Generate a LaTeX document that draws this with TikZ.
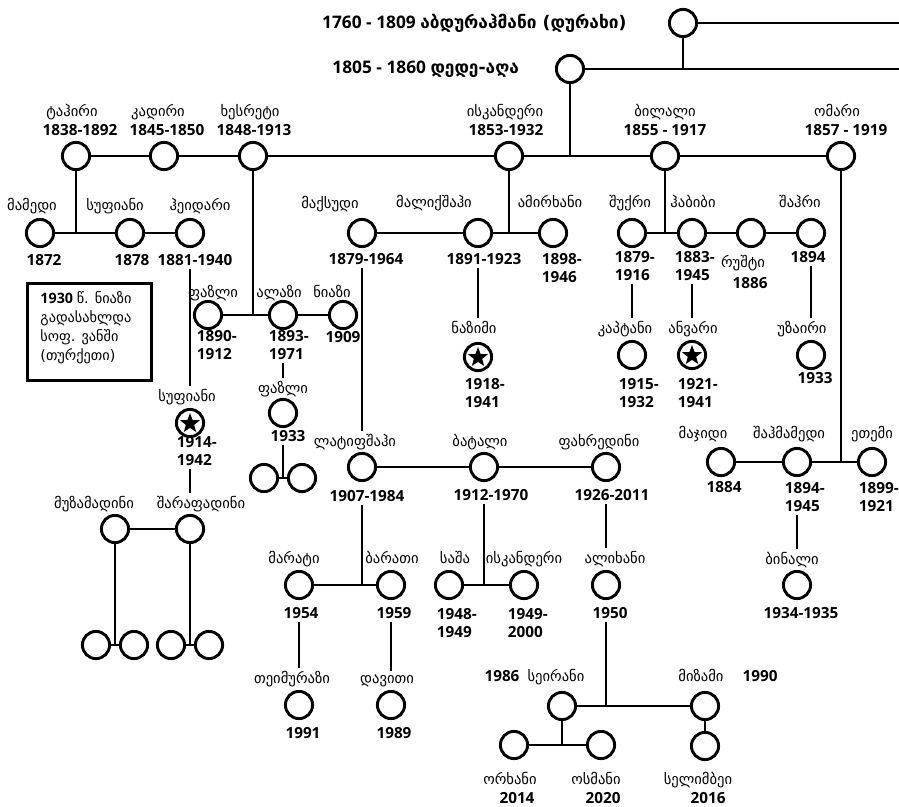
\documentclass[tikz,border=0pt]{standalone}
\usepackage{fontspec}
\setmainfont{Open Sans}
\newfontfamily\geo{DejaVu Sans}
\usetikzlibrary{shapes.geometric}
\newcommand\G[1]{{\geo #1}}
\begin{document}
\begin{tikzpicture}[x=1pt,y=-1pt,line width=2.9pt,
  person/.style={circle,draw,line width=2.9pt,minimum size=27.2pt,inner sep=0pt},
  starmark/.style={star,star points=5,star point ratio=2.4,fill,draw=none,minimum size=21pt,inner sep=0pt},
  yr/.style={font=\fontsize{15.3}{18}\selectfont\bfseries,inner sep=1.5pt,align=left},
  nm/.style={font=\fontsize{14.6}{16}\selectfont\geo,inner sep=1.5pt,anchor=base},
  ttl/.style={font=\fontsize{17.3}{20}\selectfont\bfseries,inner sep=0pt},
  note/.style={font=\fontsize{14.3}{19}\selectfont,inner sep=0pt,align=left,anchor=north west}]
\useasboundingbox (0,0) rectangle (899,806);

% ---------- top ancestors ----------
\node[person] (abd) at (683,23) {};
\node[ttl,anchor=east] (abdL) at (628,23) {1760 - 1809 \G{აბდურაჰმანი (დურახი)}};
\coordinate (abdE) at (899,23);
\draw (abd) -- (abdE);
\node[person] (ded) at (570,69) {};
\node[ttl,anchor=west] (dedL) at (331,69) {1805 - 1860 \G{დედე-აღა}};
\coordinate (dedE) at (899,69);
\draw (ded) -- (dedE);
\draw (abd) -- (abd |- dedE);

% ---------- row 1 ----------
\node[person] (tah) at (76,156) {};
\node[person] (kad) at (164,156) {};
\node[person] (khe) at (253,156) {};
\node[person] (isk) at (509,156) {};
\node[person] (bil) at (665,156) {};
\node[person] (oma) at (841,156) {};
\draw (tah) -- (kad); \draw (kad) -- (khe); \draw (khe) -- (isk);
\draw (isk) -- (bil); \draw (bil) -- (oma);
\draw (ded) -- (ded |- isk);
\node[nm] (tahN) at (72,116) {ტაჰირი};
\node[nm] (kadN) at (158,116) {კადირი};
\node[nm] (kheN) at (250,116) {ხესრეტი};
\node[nm] (iskN) at (505,116) {ისკანდერი};
\node[nm] (bilN) at (665,116) {ბილალი};
\node[nm] (omaN) at (837,116) {ომარი};
\node[yr] (tahY) at (80,130) {1838-1892};
\node[yr] (kadY) at (167,130) {1845-1850};
\node[yr] (kheY) at (254,130) {1848-1913};
\node[yr] (iskY) at (506,130) {1853-1932};
\node[yr] (bilY) at (665,130) {1855 - 1917};
\node[yr] (omaY) at (846,130) {1857 - 1919};

% ---------- tahiri's children ----------
\node[person] (mam) at (40,233) {};
\node[person] (suf) at (130,233) {};
\node[person] (hei) at (190,233) {};
\draw (tah) -- (tah |- mam);
\draw (mam) -- (suf); \draw (suf) -- (hei);
\node[nm] (mamN) at (32,210) {მამედი};
\node[nm] (sufN) at (115,210) {სუფიანი};
\node[nm] (heiN) at (200,210) {ჰეიდარი};
\node[yr] (mamY) at (44,260) {1872};
\node[yr] (sufY) at (132,260) {1878};
\node[yr] (heiY) at (195,260) {1881-1940};

% note box
\node[draw,line width=2.9pt,minimum width=124pt,minimum height=97pt,anchor=north west,inner sep=0pt] (box) at (26,282) {};
\node[note] (boxT) at (39,290) {\textbf{1930} \G{წ. ნიაზი}\\ \G{გადასახლდა}\\ \G{სოფ. ვანში}\\ \G{(თურქეთი)}};

% heidari's son
\node[nm] (suf2N) at (187,401) {სუფიანი};
\node[person] (suf2) at (190,423) {};
\node[starmark] (suf2S) at (190,423.5) {};
\node[yr,anchor=west] (suf2Y) at (174,451) {1914-\\1942};
\draw (hei |- heiY.south) -- (hei |- suf2N.north);
\node[nm] (muzN) at (94,508) {მუზამადინი};
\node[nm] (sharN) at (201,508) {შარაფადინი};
\node[person] (muz) at (115,529) {};
\node[person] (shar) at (190,529) {};
\draw (suf2 |- suf2Y.south) -- (suf2 |- sharN.north);
\draw (muz) -- (shar);
\node[person] (c1) at (96,645) {};
\node[person] (c2) at (134,645) {};
\node[person] (c3) at (171,645) {};
\node[person] (c4) at (209,645) {};
\draw (c1) -- (c2); \draw (c3) -- (c4);
\draw (muz) -- (muz |- c1);
\draw (shar) -- (shar |- c3);

% ---------- khesreti's children ----------
\node[person] (faz) at (208,315) {};
\node[person] (ala) at (283,315) {};
\node[person] (nia) at (343,315) {};
\draw (khe) -- (khe |- faz);
\draw (faz) -- (ala); \draw (ala) -- (nia);
\node[nm] (fazN) at (213,297) {ფაზლი};
\node[nm] (alaN) at (279,297) {ალაზი};
\node[nm] (niaN) at (332,297) {ნიაზი};
\node[yr,anchor=west] (fazY) at (194,345.5) {1890-\\1912};
\node[yr,anchor=west] (alaY) at (266,345.5) {1893-\\1971};
\node[yr] (niaY) at (343,337) {1909};
\node[nm] (faz2N) at (283,393) {ფაზლი};
\node[person] (faz2) at (283,413) {};
\node[yr] (faz2Y) at (288,436) {1933};
\draw (ala |- alaY.south) -- (ala |- faz2N.north);
\node[person] (k1) at (264,478) {};
\node[person] (k2) at (302,478) {};
\draw (k1) -- (k2);
\draw (faz2 |- faz2Y.south) -- (faz2 |- k1);

% ---------- iskanderi's children ----------
\node[person] (mak) at (362,233) {};
\node[person] (mal) at (478,233) {};
\node[person] (ami) at (553,233) {};
\draw (isk) -- (isk |- mak);
\draw (mak) -- (mal); \draw (mal) -- (ami);
\node[nm] (makN) at (330,208) {მაქსუდი};
\node[nm] (malN) at (434,207) {მალიქშაჰი};
\node[nm] (amiN) at (550,207) {ამირხანი};
\node[yr] (makY) at (366,259) {1879-1964};
\node[yr] (malY) at (484,259) {1891-1923};
\node[yr,anchor=west] (amiY) at (539,268.5) {1898-\\1946};
\node[nm] (nazN) at (474,333) {ნაზიმი};
\node[person] (naz) at (478,357) {};
\node[starmark] (nazS) at (478,357.5) {};
\node[yr,anchor=west] (nazY) at (462,393.5) {1918-\\1941};
\draw (mal |- malY.south) -- (mal |- nazN.north);

% maksudi's children
\node[nm] (latN) at (355,446) {ლატიფშაჰი};
\node[nm] (batN) at (480,446) {ბატალი};
\node[nm] (faxN) at (599,446) {ფახრედინი};
\node[person] (lat) at (362,467) {};
\node[person] (bat) at (484,467) {};
\node[person] (fax) at (606,467) {};
\draw (mak |- makY.south) -- (mak |- latN.north);
\draw (lat) -- (bat); \draw (bat) -- (fax);
\node[yr] (latY) at (367,496) {1907-1984};
\node[yr] (batY) at (491,495) {1912-1970};
\node[yr] (faxY) at (612,495) {1926-2011};

% latifshahi's children
\node[nm] (marN) at (294,563) {მარატი};
\node[nm] (barN) at (392,563) {ბარათი};
\node[person] (mar) at (299,585) {};
\node[person] (bar) at (391,585) {};
\draw (lat |- latY.south) -- (lat |- mar);
\draw (mar) -- (bar);
\node[yr] (marY) at (301,613) {1954};
\node[yr] (barY) at (394,613) {1959};
\node[nm] (teiN) at (292,683) {თეიმურაზი};
\node[nm] (davN) at (387,683) {დავითი};
\node[person] (tei) at (299,705) {};
\node[person] (dav) at (391,705) {};
\draw (mar |- marY.south) -- (mar |- teiN.north);
\draw (bar |- barY.south) -- (bar |- davN.north);
\node[yr] (teiY) at (303,733) {1991};
\node[yr] (davY) at (394,733) {1989};

% batali's children
\node[nm] (sasN) at (455,563) {საშა};
\node[nm] (isk2N) at (524,563) {ისკანდერი};
\node[person] (sas) at (449,585) {};
\node[person] (isk2) at (524,585) {};
\draw (sas) -- (isk2);
\draw (bat |- batY.south) -- (bat |- sas);
\node[yr,anchor=west] (sasY) at (434,623) {1948-\\1949};
\node[yr,anchor=west] (isk2Y) at (505,623) {1949-\\2000};

% fakhredini's son
\node[nm] (aliN) at (615,563) {ალიხანი};
\node[person] (ali) at (606,585) {};
\draw (fax |- faxY.south) -- (fax |- aliN.north);
\node[yr] (aliY) at (610,613) {1950};
\node[person] (sei) at (562,706) {};
\node[person] (miz) at (705,706) {};
\draw (sei) -- (miz);
\draw (ali |- aliY.south) -- (ali |- sei);
\node[yr] (seiY) at (502,676) {1986};
\node[nm] (seiN) at (556,681) {სეირანი};
\node[nm] (mizN) at (701,681) {მიზამი};
\node[yr] (mizY) at (760,676) {1990};
\node[person] (orx) at (514,745) {};
\node[person] (osm) at (601,745) {};
\node[person] (sel) at (705,746) {};
\draw (orx) -- (osm);
\draw (sei) -- (sei |- orx);
\draw (miz) -- (sel);
\node[nm] (orxN) at (510,784) {ორხანი};
\node[nm] (osmN) at (596,784) {ოსმანი};
\node[nm] (selN) at (698,784) {სელიმბეი};
\node[yr] (orxY) at (517,798) {2014};
\node[yr] (osmY) at (603,798) {2020};
\node[yr] (selY) at (708,798) {2016};

% ---------- bilali's children ----------
\node[person] (shu) at (632,233) {};
\node[person] (hab) at (692,233) {};
\node[person] (rus) at (751,233) {};
\node[person] (sha) at (811,233) {};
\draw (bil) -- (bil |- shu);
\draw (shu) -- (hab); \draw (hab) -- (rus); \draw (rus) -- (sha);
\node[nm] (shuN) at (630,207) {შუქრი};
\node[nm] (habN) at (693,207) {ჰაბიბი};
\node[nm] (shaN) at (800,207) {შაჰრი};
\node[yr,anchor=west] (shuY) at (612,266.5) {1879-\\1916};
\node[yr,anchor=west] (habY) at (672,266.5) {1883-\\1945};
\node[nm] (rusN) at (743,267) {რუშტი};
\node[yr] (rusY) at (750,283) {1886};
\node[yr] (shaY) at (808,257) {1894};
\node[nm] (kapN) at (625,333) {კაპტანი};
\node[nm] (anvN) at (693,333) {ანვარი};
\node[nm] (uzaN) at (802,333) {უზაირი};
\node[person] (kap) at (632,355) {};
\node[person] (anv) at (692,355) {};
\node[starmark] (anvS) at (692,355.5) {};
\node[person] (uza) at (811,355) {};
\draw (shu |- shuY.south) -- (shu |- kapN.north);
\draw (hab |- habY.south) -- (hab |- anvN.north);
\draw (sha |- shaY.south) -- (sha |- uzaN.north);
\node[yr,anchor=west] (kapY) at (616,393) {1915-\\1932};
\node[yr,anchor=west] (anvY) at (675,393) {1921-\\1941};
\node[yr] (uzaY) at (815,378) {1933};

% ---------- omari's children ----------
\node[person] (maj) at (721,462) {};
\node[person] (shm) at (797,462) {};
\node[person] (ete) at (872,462) {};
\draw (oma) -- (oma |- maj);
\draw (maj) -- (shm); \draw (shm) -- (ete);
\node[nm] (majN) at (703,438) {მაჯიდი};
\node[nm] (shmN) at (789,438) {შაჰმამედი};
\node[nm] (eteN) at (872,438) {ეთემი};
\node[yr] (majY) at (724,487) {1884};
\node[yr,anchor=west] (shmY) at (782,497) {1894-\\1945};
\node[yr,anchor=west] (eteY) at (856,497) {1899-\\1921};
\node[nm] (binN) at (792,564) {ბინალი};
\node[person] (bin) at (797,585) {};
\draw (shm |- shmY.south) -- (shm |- binN.north);
\node[yr] (binY) at (801,613) {1934-1935};
\end{tikzpicture}
\end{document}
